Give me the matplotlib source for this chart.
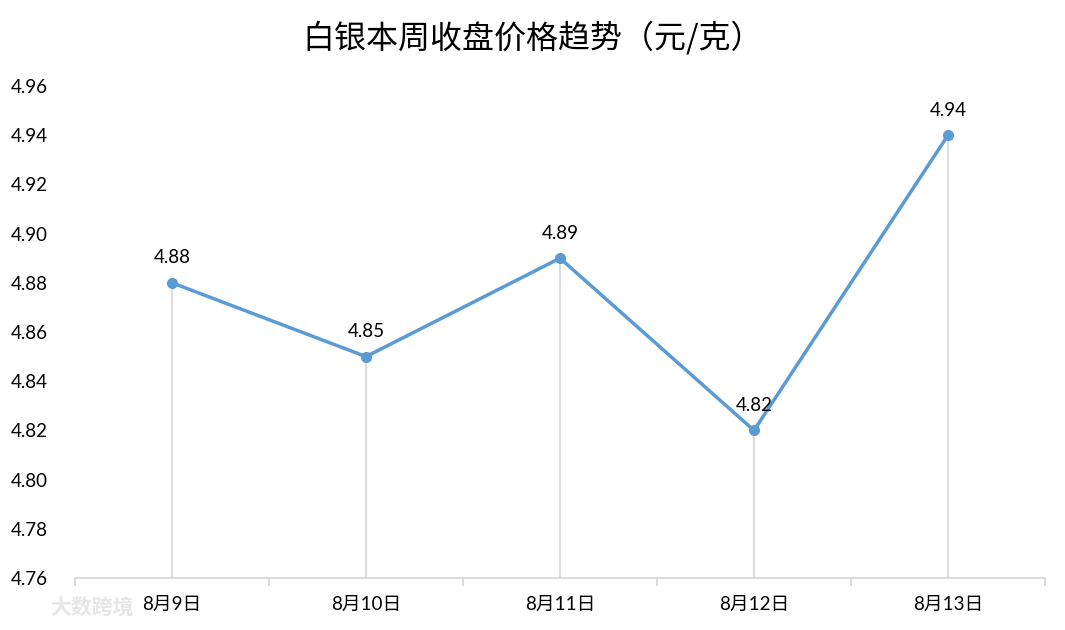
import matplotlib
matplotlib.use("Agg")
import matplotlib.pyplot as plt
import numpy as np

categories = ["8月9日", "8月10日", "8月11日", "8月12日", "8月13日"]
prices = [4.88, 4.85, 4.89, 4.82, 4.94]
y_ticks = [4.76, 4.78, 4.80, 4.82, 4.84, 4.86, 4.88, 4.90, 4.92, 4.94, 4.96]
title = "白银本周收盘价格趋势（元/克）"

plt.rcParams['font.family'] = ['Lato', 'Noto Sans CJK SC', 'DejaVu Sans']

fig = plt.figure(figsize=(10.65, 6.3), dpi=100)
ax = fig.add_axes([75/1065, 1-578/630, (1045-75)/1065, (578-86)/630])

x = np.arange(len(categories))
ymin, ymax = 4.76, 4.96
line_color = "#5B9BD5"
grid_color = "#D9D9D9"

# drop lines
ax.vlines(x, ymin, prices, color=grid_color, linewidth=1.3, zorder=1)
ax.plot(x, prices, color=line_color, linewidth=2.5, marker='o', markersize=7,
        zorder=3, solid_joinstyle='miter')

for xi, yi in zip(x, prices):
    ax.annotate(f"{yi:.2f}", (xi, yi), xytext=(0, 18), textcoords='offset points',
                ha='center', va='center', fontsize=13.5, color='#000000')

ax.set_xlim(-0.5, len(categories) - 0.5)
ax.set_ylim(ymin, ymax)
ax.set_yticks(y_ticks)
ax.set_yticklabels([f"{v:.2f}" for v in y_ticks], fontsize=13.5, ha='left')
ax.tick_params(axis='y', length=0, pad=46)

ax.set_xticks(x)
ax.set_xticklabels(categories, fontsize=13.5)
ax.set_xticks(np.arange(-0.5, len(categories)), minor=True)
ax.tick_params(axis='x', which='major', length=0, pad=13)
ax.tick_params(axis='x', which='minor', length=6, width=1.3, color=grid_color)

for s in ['top', 'right', 'left']:
    ax.spines[s].set_visible(False)
ax.spines['bottom'].set_color(grid_color)
ax.spines['bottom'].set_linewidth(1.3)

fig.text(0.5, 1-38/630, title, ha='center', va='center', fontsize=23,
         family=['Noto Sans CJK SC', 'DejaVu Sans'], color='#000000')

# watermark
fig.text(50/1065, 1-607/630, "大数跨境", ha='left', va='center', fontsize=15,
         family=['Noto Sans CJK SC'], color='#E6E6E6', fontweight='bold')

fig.savefig("out.png", dpi=100, facecolor='white')
